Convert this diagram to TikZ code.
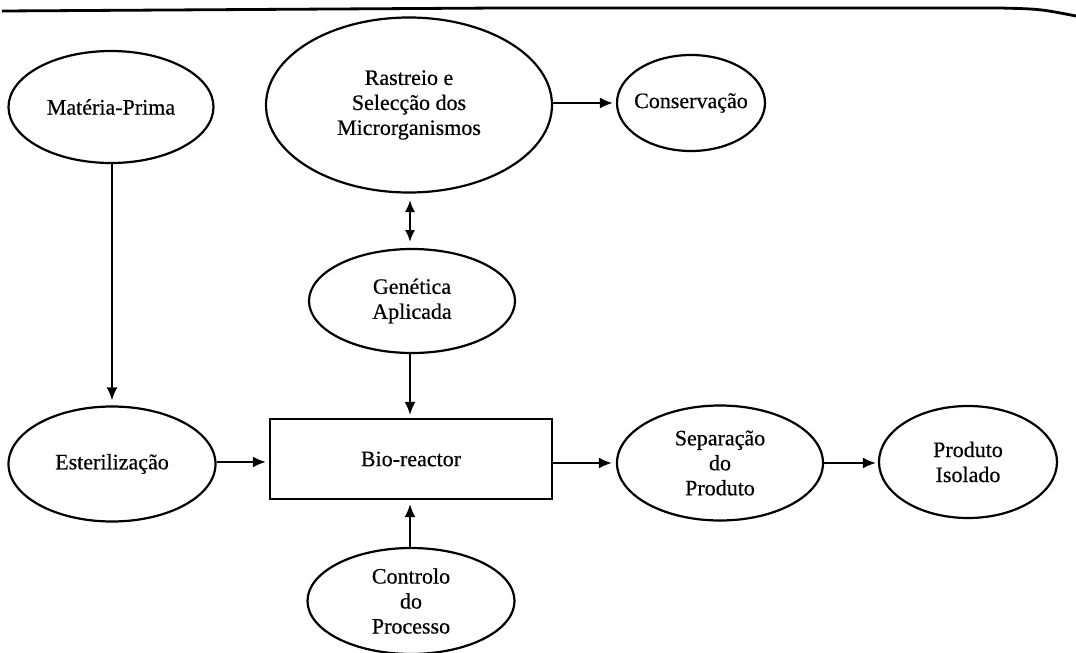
\documentclass[tikz,border=0pt]{standalone}
\usepackage{fontspec}
\setmainfont{Liberation Serif}[BoldFont={Liberation Serif}, BoldFeatures={FakeBold=0.5}]
\usetikzlibrary{shapes.geometric,arrows.meta}
\begin{document}
\begin{tikzpicture}[x=1pt,y=-1pt,
  every node/.style={font=\bfseries\fontsize{22}{25}\selectfont, align=center},
  oval/.style={ellipse, draw, line width=2.2pt, inner sep=0pt},
  box/.style={rectangle, draw, line width=2.2pt, inner sep=0pt},
  flow/.style={line width=2pt, -{Latex[length=13pt,width=11pt]}},
  both/.style={line width=2pt, {Latex[length=12pt,width=10pt]}-{Latex[length=12pt,width=10pt]}}]
\useasboundingbox (0,0) rectangle (1076,653);

% heading rule
\draw[line width=2.8pt] (2,11) -- (500,8) -- (1000,8) .. controls (1040,9) .. (1076,16);

% nodes
\node[oval, minimum width=205pt, minimum height=112pt] (mat) at (111,107) {Matéria-Prima};
\node[oval, minimum width=286pt, minimum height=175pt] (ras) at (409,105) {Rastreio e\\Selecção dos\\Microrganismos};
\node[oval, inner xsep=-5pt, minimum width=148pt, minimum height=96pt] (con) at (691,103) {Conservação};
\node[oval, minimum width=206pt, minimum height=104pt] (gen) at (412,301) {Genética\\Aplicada};
\node[oval, minimum width=207pt, minimum height=115pt] (est) at (112,464) {Esterilização};
\node[box, minimum width=282pt, minimum height=80pt] (bio) at (411,459) {Bio-reactor};
\node[oval, minimum width=206pt, minimum height=115pt] (sep) at (720,463) {Separação\\do\\Produto};
\node[oval, minimum width=178pt, minimum height=112pt] (pro) at (968,462) {Produto\\Isolado};
\node[oval, minimum width=207pt, minimum height=106pt] (ctl) at (411,601) {Controlo\\do\\Processo};

% free ends of the two-way link
\coordinate (linkA) at (410,200);
\coordinate (linkB) at (410,242);

% connectors
\draw[flow, shorten >=5pt] (mat.south -| 112,0) -- (est.north);
\draw[flow, shorten >=3pt] (ras.east |- 0,103) -- (con.west |- 0,103);
\draw[both] (linkA) -- (linkB);
\draw[flow, shorten >=3pt] (gen.south -| 410,0) -- (bio.north -| 410,0);
\draw[flow, shorten >=4pt] (ctl.north -| 410,0) -- (bio.south -| 410,0);
\draw[flow, shorten >=3pt] (est.east |- 0,462) -- (bio.west |- 0,462);
\draw[flow, shorten >=4pt] (bio.east |- 0,463) -- (sep.west |- 0,463);
\draw[flow, shorten >=2pt] (sep.east |- 0,463) -- (pro.west |- 0,463);
\end{tikzpicture}
\end{document}
